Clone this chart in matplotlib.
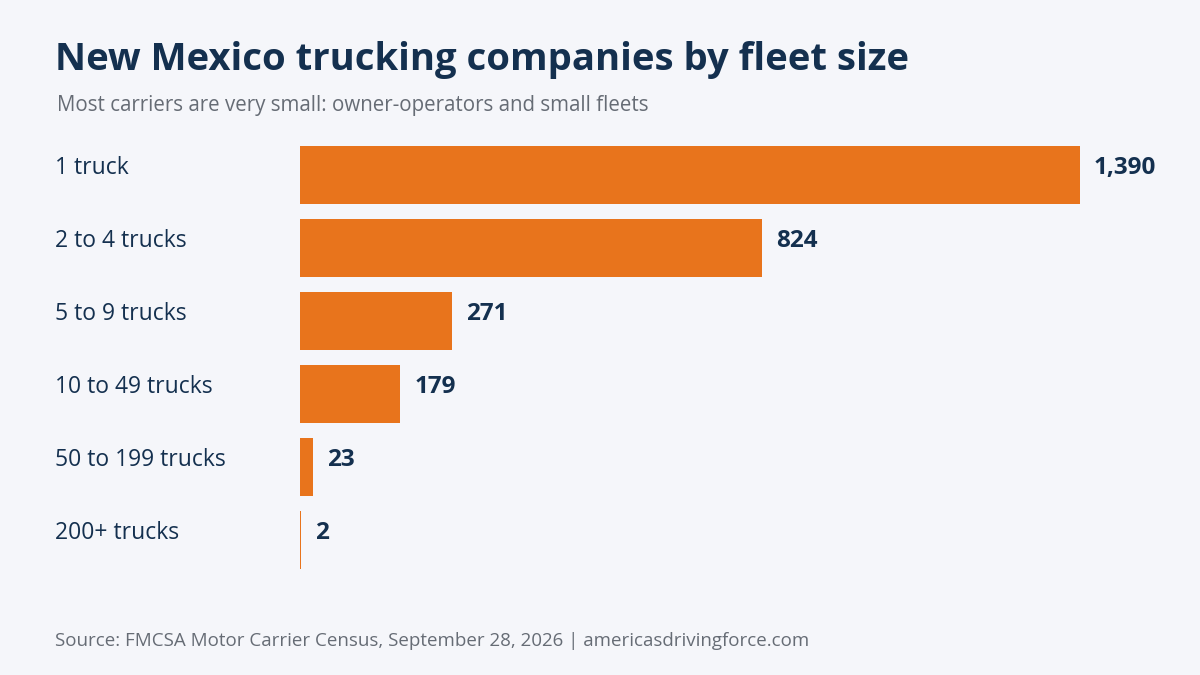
import matplotlib
matplotlib.use("Agg")
import matplotlib.pyplot as plt
from matplotlib.transforms import offset_copy

categories = ["1 truck", "2 to 4 trucks", "5 to 9 trucks", "10 to 49 trucks", "50 to 199 trucks", "200+ trucks"]
values = [1390, 824, 271, 179, 23, 2]

title = "New Mexico trucking companies by fleet size"
subtitle = "Most carriers are very small: owner-operators and small fleets"
source = "Source: FMCSA Motor Carrier Census, September 28, 2026 | americasdrivingforce.com"

BG = "#F5F6FA"
BAR = "#E8741C"
DARK = "#14304F"
GRAY = "#666C75"

plt.rcParams['font.family'] = ['Open Sans', 'Noto Sans', 'DejaVu Sans']

W, H = 1200, 675
fig = plt.figure(figsize=(12, 6.75), dpi=100, facecolor=BG)

left_px, right_px = 300, 1080
top_px, bot_px = 138.5, 576.5
ax = fig.add_axes([left_px / W, 1 - bot_px / H, (right_px - left_px) / W, (bot_px - top_px) / H])
ax.set_facecolor(BG)
ax.set_xlim(0, max(values))
ax.set_ylim(len(values) - 0.5, -0.5)
ax.axis("off")

ys = list(range(len(values)))
ax.barh(ys, values, height=0.8, color=BAR, edgecolor="none")

for y, v, c in zip(ys, values, categories):
    tr = offset_copy(ax.transData, fig=fig, x=14, y=7, units='dots')
    ax.text(v, y, f"{v:,}", transform=tr, ha="left", va="center",
            fontsize=17.5, fontweight="bold", color=DARK, clip_on=False)
    yfig = 1 - (top_px + (y + 0.5) * (bot_px - top_px) / len(values) - 7) / H
    fig.text(55 / W, yfig, c, ha="left", va="center", fontsize=16.5, color=DARK)

fig.text(55 / W, 1 - 60 / H, title, ha="left", va="center", fontsize=27.5, fontweight="bold", color=DARK)
fig.text(57 / W, 1 - 106 / H, subtitle, ha="left", va="center", fontsize=14.8, color=GRAY)
fig.text(55 / W, 1 - 641 / H, source, ha="left", va="center", fontsize=13.5, color=GRAY)

fig.savefig("out.png", dpi=100, facecolor=BG)
